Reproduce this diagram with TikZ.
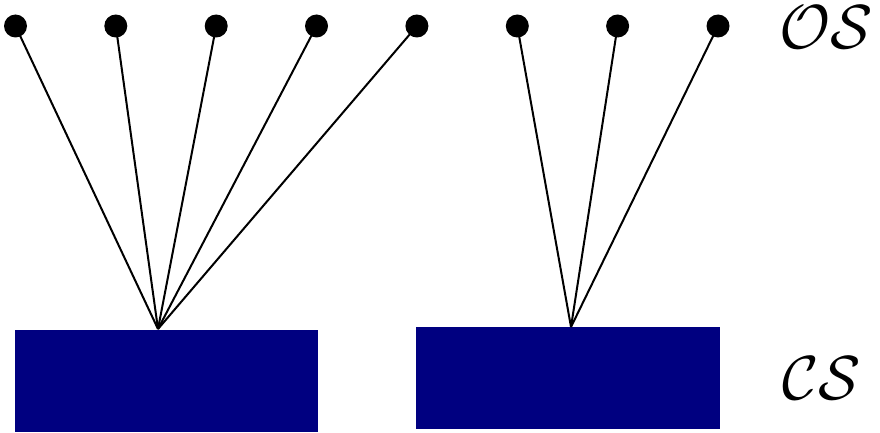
\documentclass[tikz,border=0pt]{standalone}
\usepackage{graphicx}
\definecolor{rectblue}{RGB}{0,0,128}
\newcommand{\biglbl}[1]{\scalebox{2.5}{\Huge$#1$}}
\begin{document}
\begin{tikzpicture}[x=1pt,y=-1pt,
  dot/.style={circle,fill=black,inner sep=0pt,minimum size=23pt},
  block/.style={fill=rectblue,draw=none},
  link/.style={line width=2pt},
  lbl/.style={inner sep=0pt}]
\useasboundingbox (0,0) rectangle (880,433);
\fill[block] (14.5,329.5) rectangle (318,432);
\fill[block] (416,327) rectangle (719.5,429);
\coordinate (a1) at (158,329);
\coordinate (a2) at (571,327);
\foreach \i/\x in {1/15.5,2/115.8,3/216.2,4/316.5,5/416.9,6/517.3,7/617.6,8/718}{
  \node[dot] (d\i) at (\x,26) {};
}
\foreach \i in {1,...,5}{\draw[link] (d\i.center) -- (a1);}
\foreach \i in {6,7,8}{\draw[link] (d\i.center) -- (a2);}
\node[lbl] (os) at (826,27.5) {\biglbl{\mathcal{O}\mathcal{S}}};
\node[lbl] (cs) at (822,378) {\biglbl{\mathcal{C}\mathcal{S}}};
\end{tikzpicture}
\end{document}
